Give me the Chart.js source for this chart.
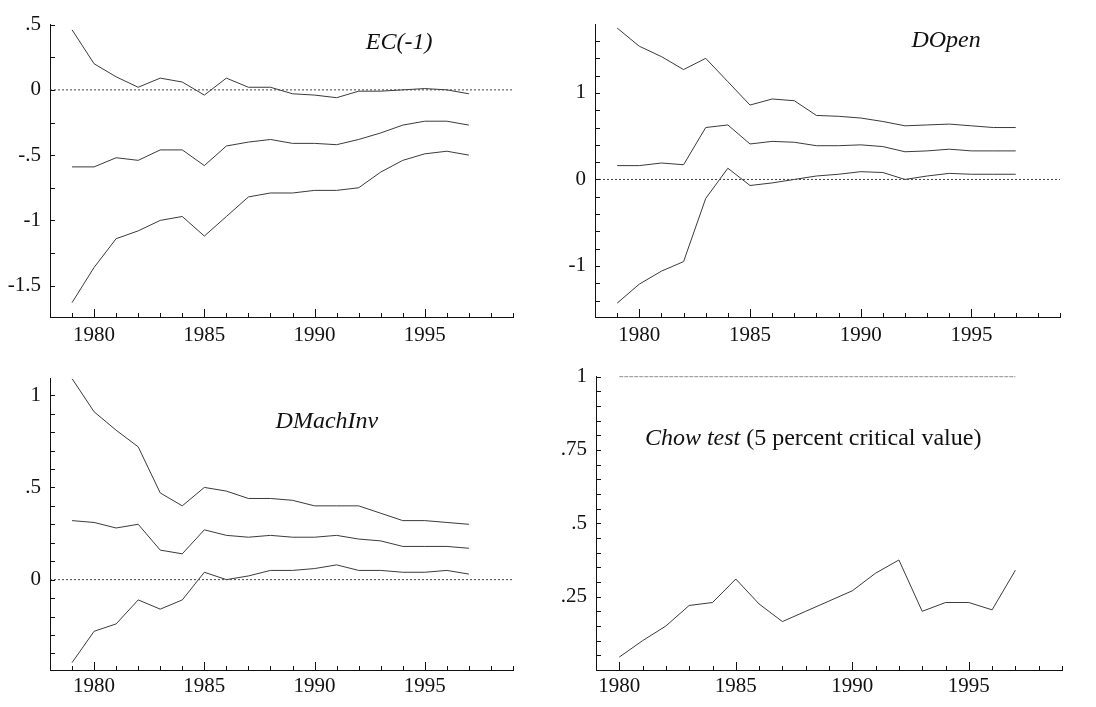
<!DOCTYPE html>
<html>
<head>
<meta charset="utf-8">
<script src="https://cdn.jsdelivr.net/npm/chart.js@4.4.1/dist/chart.umd.min.js"></script>
<style>
html, body { margin: 0; padding: 0; background: #fff; }
#wrap { position: relative; width: 1096px; height: 707px; overflow: hidden; }
canvas { position: absolute; }
</style>
</head>
<body>
<div id="wrap">
  <canvas id="c1"></canvas>
  <canvas id="c2"></canvas>
  <canvas id="c3"></canvas>
  <canvas id="c4"></canvas>
</div>
<script>
// recursive estimates, 1979-1997
var years = [1979,1980,1981,1982,1983,1984,1985,1986,1987,1988,1989,1990,1991,1992,1993,1994,1995,1996,1997];

var ecUpper = [0.46,0.20,0.10,0.02,0.09,0.06,-0.04,0.09,0.02,0.02,-0.03,-0.04,-0.06,-0.01,-0.01,0.00,0.01,0.00,-0.03];
var ecCoef  = [-0.59,-0.59,-0.52,-0.54,-0.46,-0.46,-0.58,-0.43,-0.40,-0.38,-0.41,-0.41,-0.42,-0.38,-0.33,-0.27,-0.24,-0.24,-0.27];
var ecLower = [-1.63,-1.36,-1.14,-1.08,-1.00,-0.97,-1.12,-0.97,-0.82,-0.79,-0.79,-0.77,-0.77,-0.75,-0.63,-0.54,-0.49,-0.47,-0.50];

var openUpper = [1.75,1.54,1.42,1.27,1.40,1.13,0.86,0.93,0.91,0.74,0.73,0.71,0.67,0.62,0.63,0.64,0.62,0.60,0.60];
var openCoef  = [0.16,0.16,0.19,0.17,0.60,0.63,0.41,0.44,0.43,0.39,0.39,0.40,0.38,0.32,0.33,0.35,0.33,0.33,0.33];
var openLower = [-1.43,-1.21,-1.06,-0.95,-0.22,0.13,-0.07,-0.04,0.00,0.04,0.06,0.09,0.08,0.00,0.04,0.07,0.06,0.06,0.06];

var machUpper = [1.09,0.91,0.81,0.72,0.47,0.40,0.50,0.48,0.44,0.44,0.43,0.40,0.40,0.40,0.36,0.32,0.32,0.31,0.30];
var machCoef  = [0.32,0.31,0.28,0.30,0.16,0.14,0.27,0.24,0.23,0.24,0.23,0.23,0.24,0.22,0.21,0.18,0.18,0.18,0.17];
var machLower = [-0.45,-0.28,-0.24,-0.11,-0.16,-0.11,0.04,0.00,0.02,0.05,0.05,0.06,0.08,0.05,0.05,0.04,0.04,0.05,0.03];

var chowYears = [1980,1981,1982,1983,1984,1985,1986,1987,1988,1989,1990,1991,1992,1993,1994,1995,1996,1997];
var chowStat  = [0.044,0.10,0.15,0.22,0.23,0.31,0.225,0.165,0.20,0.235,0.27,0.33,0.375,0.20,0.23,0.23,0.205,0.34];
var chowCrit  = [1,1,1,1,1,1,1,1,1,1,1,1,1,1,1,1,1,1];

var zeroYears = [1978, 1999];
var zeroLine = [0, 0];

var yearTicks = [1980, 1985, 1990, 1995];
var ecTicks   = [0.5, 0, -0.5, -1, -1.5];
var openTicks = [1, 0, -1];
var machTicks = [1, 0.5, 0];
var chowTicks = [1, 0.75, 0.5, 0.25];

var fontFam = '"Liberation Serif", "Times New Roman", serif';
var ink = '#111';
var lineCol = '#3a3a3a';

function pts(xs, ys) {
  return xs.map(function (x, i) { return { x: x, y: ys[i] }; });
}

function fmt(v) {
  var s = String(Math.round(v * 100) / 100);
  return s.replace(/^(-?)0\./, '$1.');
}

// small tick marks drawn inside the plot
var inTicks = {
  id: 'inTicks',
  afterDraw: function (chart, args, o) {
    var ctx = chart.ctx, a = chart.chartArea;
    var xs = chart.scales.x, ys = chart.scales.y;
    ctx.save();
    ctx.strokeStyle = ink;
    ctx.lineWidth = 1;
    ctx.beginPath();
    var v;
    for (v = Math.ceil(xs.min); v <= xs.max; v += o.xStep) {
      var px = Math.round(xs.getPixelForValue(v)) + 0.5;
      var len = (v % 5 === 0) ? 8 : 4;
      ctx.moveTo(px, a.bottom);
      ctx.lineTo(px, a.bottom - len);
    }
    var n0 = Math.ceil(ys.min / o.yStep - 1e-6);
    for (var k = n0; k * o.yStep <= ys.max + 1e-6; k++) {
      var py = Math.round(ys.getPixelForValue(k * o.yStep)) + 0.5;
      ctx.moveTo(a.left, py);
      ctx.lineTo(a.left + 5, py);
    }
    ctx.stroke();
    ctx.restore();
  }
};

// text label inside the plot area
var panelTitle = {
  id: 'panelTitle',
  afterDraw: function (chart, args, o) {
    var ctx = chart.ctx, a = chart.chartArea;
    var cx = a.left + o.fx * (a.right - a.left);
    var cy = a.top + o.fy * (a.bottom - a.top);
    ctx.save();
    ctx.fillStyle = ink;
    ctx.textBaseline = 'middle';
    ctx.textAlign = 'left';
    var total = 0;
    o.parts.forEach(function (p) {
      ctx.font = (p.italic ? 'italic ' : '') + '24px ' + fontFam;
      p.w = ctx.measureText(p.text).width;
      total += p.w;
    });
    var x = cx - total / 2;
    o.parts.forEach(function (p) {
      ctx.font = (p.italic ? 'italic ' : '') + '24px ' + fontFam;
      ctx.fillText(p.text, x, cy);
      x += p.w;
    });
    ctx.restore();
  }
};

function makePanel(id, box, xMin, yMin, yMax, yStep, yLabels, sets, title) {
  var padTop = 10, padRight = 10, yW = 50, xH = 45;
  var cv = document.getElementById(id);
  var w = yW + box.w + padRight, h = padTop + box.h + xH;
  cv.width = w; cv.height = h;
  cv.style.width = w + 'px'; cv.style.height = h + 'px';
  cv.style.left = (box.left - yW) + 'px';
  cv.style.top = (box.top - padTop) + 'px';

  return new Chart(cv.getContext('2d'), {
    type: 'line',
    data: {
      datasets: sets.map(function (s) {
        return {
          data: s.data,
          borderColor: s.col || lineCol,
          borderWidth: 1,
          borderDash: s.dash || [],
          pointRadius: 0,
          tension: 0,
          fill: false
        };
      })
    },
    plugins: [inTicks, panelTitle],
    options: {
      responsive: false,
      animation: false,
      layout: { padding: { top: padTop, right: padRight, left: 0, bottom: 0 } },
      plugins: {
        legend: { display: false },
        tooltip: { enabled: false },
        inTicks: { xStep: 1, yStep: yStep },
        panelTitle: title
      },
      scales: {
        x: {
          type: 'linear',
          min: xMin,
          max: 1999,
          grid: { display: false, drawTicks: false },
          border: { display: true, color: ink, width: 1 },
          afterFit: function (s) { s.height = xH; },
          afterBuildTicks: function (s) {
            s.ticks = yearTicks.map(function (v) { return { value: v }; });
          },
          ticks: {
            autoSkip: false,
            maxRotation: 0,
            padding: box.top < 100 ? 6 : 4,
            color: ink,
            font: { family: fontFam, size: 21 },
            callback: function (v) { return String(v); }
          }
        },
        y: {
          type: 'linear',
          min: yMin,
          max: yMax,
          grid: { display: false, drawTicks: false },
          border: { display: true, color: ink, width: 1 },
          afterFit: function (s) { s.width = yW; },
          afterBuildTicks: function (s) {
            s.ticks = yLabels.map(function (v) { return { value: v }; });
          },
          ticks: {
            autoSkip: false,
            padding: 9,
            color: ink,
            font: { family: fontFam, size: 21 },
            callback: function (v) { return fmt(v); }
          }
        }
      }
    }
  });
}

var zeroSet = { data: pts(zeroYears, zeroLine), dash: [2, 2], col: '#444' };

makePanel('c1', { left: 50, top: 13, w: 463, h: 304 }, 1978, -1.74, 0.5, 0.25, ecTicks, [
  zeroSet,
  { data: pts(years, ecUpper) },
  { data: pts(years, ecCoef) },
  { data: pts(years, ecLower) }
], { fx: 0.754, fy: 0.062, parts: [{ text: 'EC(-1)', italic: true }] });

makePanel('c2', { left: 595, top: 13, w: 465, h: 304 }, 1978, -1.59, 1.79, 0.2, openTicks, [
  zeroSet,
  { data: pts(years, openUpper) },
  { data: pts(years, openCoef) },
  { data: pts(years, openLower) }
], { fx: 0.755, fy: 0.056, parts: [{ text: 'DOpen', italic: true }] });

makePanel('c3', { left: 50, top: 367, w: 463, h: 303 }, 1978, -0.49, 1.09, 0.1, machTicks, [
  zeroSet,
  { data: pts(years, machUpper) },
  { data: pts(years, machCoef) },
  { data: pts(years, machLower) }
], { fx: 0.598, fy: 0.149, parts: [{ text: 'DMachInv', italic: true }] });

makePanel('c4', { left: 596, top: 365, w: 466, h: 305 }, 1979, 0, 1, 0.05, chowTicks, [
  { data: pts(chowYears, chowCrit), dash: [4, 1], col: '#333' },
  { data: pts(chowYears, chowStat) }
], { fx: 0.466, fy: 0.213, parts: [{ text: 'Chow test', italic: true }, { text: ' (5 percent critical value)', italic: false }] });
</script>
</body>
</html>
